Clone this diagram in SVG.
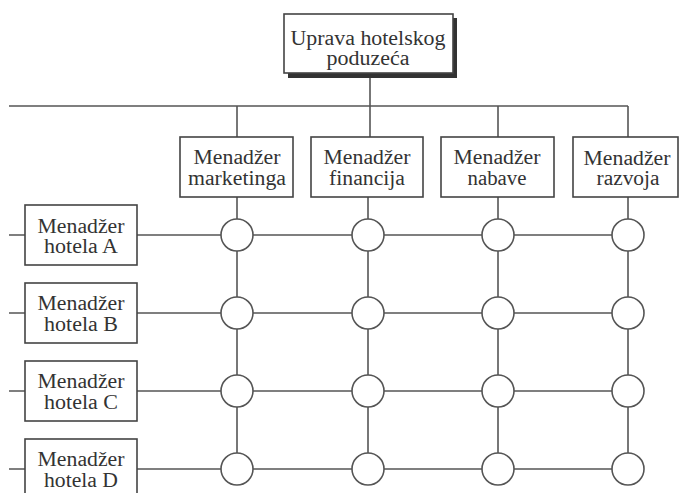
<svg xmlns="http://www.w3.org/2000/svg" width="680" height="493" viewBox="0 0 680 493">
<style>
.box{fill:#fff;stroke:#444;stroke-width:1.6}
.ln{stroke:#555;stroke-width:1.6;fill:none}
.nd{fill:#fff;stroke:#555;stroke-width:1.6}
text{font-family:"Liberation Serif","Times New Roman",serif;font-size:20px;fill:#333;text-anchor:middle}
</style>
<rect width="680" height="493" fill="#fff"/>
<g id="connectors">
<line class="ln" x1="370" y1="74" x2="370" y2="137"/>
<line class="ln" x1="9" y1="106" x2="628" y2="106"/>
<line class="ln" x1="237" y1="106" x2="237" y2="137"/>
<line class="ln" x1="498" y1="106" x2="498" y2="137"/>
<line class="ln" x1="628" y1="106" x2="628" y2="137"/>
<line class="ln" x1="237" y1="197" x2="237" y2="469"/>
<line class="ln" x1="368" y1="197" x2="368" y2="469"/>
<line class="ln" x1="498" y1="197" x2="498" y2="469"/>
<line class="ln" x1="628" y1="197" x2="628" y2="469"/>
<line class="ln" x1="9" y1="235" x2="628" y2="235"/>
<line class="ln" x1="9" y1="313" x2="628" y2="313"/>
<line class="ln" x1="9" y1="391" x2="628" y2="391"/>
<line class="ln" x1="9" y1="469" x2="628" y2="469"/>
</g>
<g id="top">
<rect x="288" y="18" width="169" height="60" fill="#333"/>
<rect class="box" x="284" y="14" width="169" height="59"/>
<text x="368" y="45" textLength="155" lengthAdjust="spacingAndGlyphs">Uprava hotelskog</text>
<text x="368" y="65" textLength="83" lengthAdjust="spacingAndGlyphs">poduzeća</text>
</g>
<g id="marketing">
<rect class="box" x="180" y="137" width="113" height="60"/>
<text x="237" y="164" textLength="87" lengthAdjust="spacingAndGlyphs">Menadžer</text>
<text x="237" y="185" textLength="98" lengthAdjust="spacingAndGlyphs">marketinga</text>
</g>
<g id="financija">
<rect class="box" x="311" y="137" width="112" height="60"/>
<text x="367" y="164" textLength="87" lengthAdjust="spacingAndGlyphs">Menadžer</text>
<text x="367" y="185" textLength="76" lengthAdjust="spacingAndGlyphs">financija</text>
</g>
<g id="nabave">
<rect class="box" x="441" y="137" width="113" height="60"/>
<text x="497" y="164" textLength="87" lengthAdjust="spacingAndGlyphs">Menadžer</text>
<text x="497" y="185" textLength="59" lengthAdjust="spacingAndGlyphs">nabave</text>
</g>
<g id="razvoja">
<rect class="box" x="573" y="137" width="105" height="60"/>
<text x="627" y="165" textLength="87" lengthAdjust="spacingAndGlyphs">Menadžer</text>
<text x="628" y="185" textLength="63" lengthAdjust="spacingAndGlyphs">razvoja</text>
</g>
<g id="hotelA">
<rect class="box" x="25" y="205" width="112" height="60"/>
<text x="81" y="233" textLength="87" lengthAdjust="spacingAndGlyphs">Menadžer</text>
<text x="81" y="253" textLength="74" lengthAdjust="spacingAndGlyphs">hotela A</text>
</g>
<g id="hotelB">
<rect class="box" x="25" y="283" width="112" height="60"/>
<text x="81" y="310" textLength="87" lengthAdjust="spacingAndGlyphs">Menadžer</text>
<text x="81" y="331" textLength="74" lengthAdjust="spacingAndGlyphs">hotela B</text>
</g>
<g id="hotelC">
<rect class="box" x="25" y="361" width="112" height="60"/>
<text x="81" y="388" textLength="87" lengthAdjust="spacingAndGlyphs">Menadžer</text>
<text x="81" y="409" textLength="74" lengthAdjust="spacingAndGlyphs">hotela C</text>
</g>
<g id="hotelD">
<rect class="box" x="25" y="439" width="112" height="60"/>
<text x="81" y="466" textLength="87" lengthAdjust="spacingAndGlyphs">Menadžer</text>
<text x="81" y="487" textLength="74" lengthAdjust="spacingAndGlyphs">hotela D</text>
</g>
<g id="nodes">
<circle class="nd" cx="237" cy="235" r="16"/>
<circle class="nd" cx="368" cy="235" r="16"/>
<circle class="nd" cx="498" cy="235" r="16"/>
<circle class="nd" cx="628" cy="235" r="16"/>
<circle class="nd" cx="237" cy="313" r="16"/>
<circle class="nd" cx="368" cy="313" r="16"/>
<circle class="nd" cx="498" cy="313" r="16"/>
<circle class="nd" cx="628" cy="313" r="16"/>
<circle class="nd" cx="237" cy="391" r="16"/>
<circle class="nd" cx="368" cy="391" r="16"/>
<circle class="nd" cx="498" cy="391" r="16"/>
<circle class="nd" cx="628" cy="391" r="16"/>
<circle class="nd" cx="237" cy="469" r="16"/>
<circle class="nd" cx="368" cy="469" r="16"/>
<circle class="nd" cx="498" cy="469" r="16"/>
<circle class="nd" cx="628" cy="469" r="16"/>
</g>
</svg>
